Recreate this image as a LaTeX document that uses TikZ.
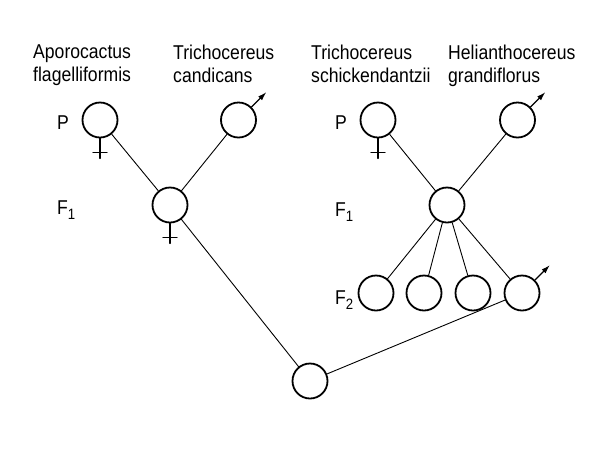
\documentclass[tikz,border=0pt]{standalone}
\usepackage{fontspec}
\setmainfont{Liberation Sans}[FakeStretch=0.88]
\usetikzlibrary{arrows.meta}
\newcommand{\femalemark}[1]{%
  \draw[cross] (#1.south) -- ++(0,20);
  \draw[cross] (#1.south) ++(-7,14) -- ++(14,0);
}
\newcommand{\malemark}[1]{%
  \draw[male] (#1.45) -- ++(15,-15);
}
\newcommand{\gensub}[1]{\raisebox{-5pt}{\fontsize{15}{15}\selectfont #1}}

\begin{document}
\begin{tikzpicture}[x=1pt, y=-1pt, line cap=round, line join=round]
\tikzset{gen/.style={circle, draw, line width=1.8pt, minimum size=35pt, inner sep=0pt},
  link/.style={line width=0.9pt},
  cross/.style={line width=1.3pt},
  male/.style={-{Latex[length=9pt,width=5.5pt]}, line width=1.3pt},
  species/.style={anchor=north west, align=left, inner sep=0pt, font=\fontsize{20}{23}\selectfont},
  gen label/.style={anchor=base west, inner sep=0pt, font=\fontsize{20}{23}\selectfont}}
\useasboundingbox (0,0) rectangle (600,451);

% species names
\node[species] (nA) at (33,45)  {Aporocactus\\flagelliformis};
\node[species] (nT) at (173,45) {Trichocereus\\candicans};
\node[species] (nS) at (311,45) {Trichocereus\\schickendantzii};
\node[species] (nH) at (448,45) {Helianthocereus\\grandiflorus};

% generation labels
\node[gen label] (PL)  at (57,129)  {P};
\node[gen label] (F1L) at (57,214)  {F\gensub{1}};
\node[gen label] (PR)  at (335,129) {P};
\node[gen label] (F1R) at (335,216) {F\gensub{1}};
\node[gen label] (F2R) at (335,304) {F\gensub{2}};

% plants
\node[gen] (pA)  at (100,120) {};
\node[gen] (pT)  at (238.5,120) {};
\node[gen] (fL)  at (170,205) {};
\node[gen] (pS)  at (378,120) {};
\node[gen] (pH)  at (517.5,120) {};
\node[gen] (fR)  at (447,205) {};
\node[gen] (g1)  at (376,293) {};
\node[gen] (g2)  at (424,293) {};
\node[gen] (g3)  at (473,293) {};
\node[gen] (g4)  at (522,293) {};
\node[gen] (hyb) at (310,381) {};

% crosses
\draw[link] (pA) -- (fL);
\draw[link] (pT) -- (fL);
\draw[link] (pS) -- (fR);
\draw[link] (pH) -- (fR);
\foreach \i in {1,...,4}{
  \draw[link] (fR) -- (g\i);
}
\draw[link] (fL) -- (hyb);
\draw[link] (g4) -- (hyb);

% sex symbols
\femalemark{pA}
\femalemark{fL}
\femalemark{pS}
\malemark{pT}
\malemark{pH}
\malemark{g4}
\end{tikzpicture}
\end{document}
